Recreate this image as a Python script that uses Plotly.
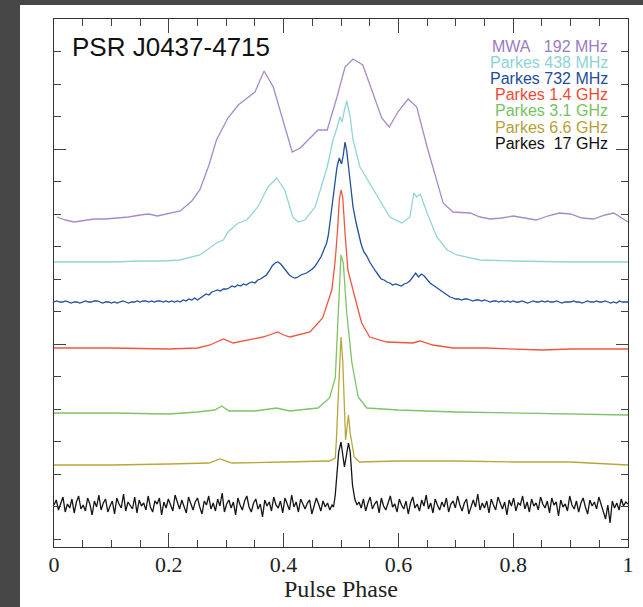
import plotly.graph_objects as go

# ---------------- data (pulse profiles, relative intensity, arbitrary units) ----------------
LEGEND_TEXT = ["MWA\u00a0\u00a0\u00a0192 MHz", "Parkes 438 MHz", "Parkes 732 MHz", "Parkes 1.4 GHz",
               "Parkes 3.1 GHz", "Parkes 6.6 GHz", "Parkes\u00a0\u00a017 GHz"]
COLORS = ["#a68bcb", "#92d5d5", "#1f4f9e", "#f0563f", "#7dc466", "#b9a63a", "#151515"]
TEXT_COLORS = ["#9a7cc2", "#8fd3d6", "#1c4c9a", "#f04a36", "#78c260", "#b3a13a", "#111111"]
OFFSETS = [329, 285, 245, 199, 134, 83, 40]

PHASE_MWA = [0.005, 0.02, 0.035, 0.05, 0.07, 0.09, 0.11, 0.13, 0.15, 0.165, 0.18, 0.195, 0.21, 0.22,
             0.24, 0.254, 0.27, 0.283, 0.303, 0.321, 0.350, 0.366, 0.382, 0.415, 0.429, 0.460, 0.476,
             0.493, 0.507, 0.521, 0.538, 0.554, 0.571, 0.584, 0.599, 0.617, 0.632, 0.650, 0.678, 0.695,
             0.725, 0.742, 0.76, 0.78, 0.80, 0.82, 0.84, 0.86, 0.88, 0.90, 0.92, 0.94, 0.96, 0.975, 0.99, 1.0]
REL_MWA = [1, -2, -4, -3, -1, -1, 0, 1, 3, 4, 2, 4, 6, 7,
           17, 28, 53, 78, 100, 113, 126, 147, 131, 66, 70, 88, 88,
           121, 151, 159, 153, 128, 100, 91, 106, 119, 111, 71, 15, 6,
           5, 1, -1, 0, 2, 0, -2, 2, 5, 4, 0, -1, 3, 5, 0, -4]

PHASE_438 = [0.0, 0.05, 0.1, 0.15, 0.19, 0.2195, 0.254, 0.283, 0.295, 0.303, 0.321, 0.336, 0.355, 0.373,
             0.388, 0.402, 0.416, 0.425, 0.437, 0.455, 0.476, 0.486, 0.493, 0.498, 0.502, 0.506, 0.510,
             0.516, 0.521, 0.533, 0.550, 0.568, 0.585, 0.606, 0.620, 0.627, 0.632, 0.638, 0.650, 0.667,
             0.685, 0.702, 0.725, 0.742, 0.8, 0.9, 1.0]
REL_438 = [0, 0, 0, 1, 1, 2, 7, 19, 22, 30, 39, 42, 55, 75,
           84, 72, 45, 40, 42, 55, 95, 122, 134, 145, 140, 152, 161,
           145, 122, 95, 79, 62, 45, 39, 45, 69, 65, 68, 49, 25,
           12, 7, 4, 2, 1, 0, 0]

# Parkes 732 MHz: off-pulse samples on a 0.005 phase grid plus a finer on-pulse part
STEP_732 = 0.005
REL_732_LEFT = [0, 1, 0, 0, 1, 0, -1, 0, 0, -1, 0, 1, 0, 0, 1, 1, 0, -1, 0, 0,
                -1, 0, -1, 0, 1, 0, -1, 0, 0, 1, 0, 1, 1, 0, 1, 0, 1, 1, 0, 1,
                0, 1, 0, 1, 0, 2, 1, 3, 2, 4, 2, 4, 6, 8, 7, 10, 11, 12, 11, 13,
                13, 14, 16, 15, 17, 16, 18, 17, 19, 20, 19, 22, 23, 25, 27, 31, 36, 39, 40, 38,
                34, 31, 27, 25, 24, 25, 27, 28, 29, 31, 33, 36, 40, 45, 52, 59]
PHASE_732_PEAK = [0.478, 0.482, 0.486, 0.490, 0.493, 0.497, 0.501, 0.504, 0.507, 0.510, 0.513,
                  0.517, 0.521, 0.526, 0.530, 0.535]
REL_732_PEAK = [67, 85, 105, 123, 135, 144, 138, 147, 160, 151, 135, 113, 95, 80, 69, 58]
START_732_RIGHT = 108
REL_732_RIGHT = [50, 46, 40, 35, 31, 27, 23, 22, 20, 19, 17, 18,
                 17, 16, 18, 19, 21, 25, 29, 25, 28, 26, 22, 19, 17, 15, 13, 11, 9, 7, 5, 4,
                 3, 3, 2, 3, 3, 2, 1, 2, 2, 1, 2, 1, 0, 1, 1, 0, 1, 0, 1, 0,
                 1, 0, 0, 1, 0, -1, 0, 1, 0, 0, 1, 0, 1, 0, 0, 1, 0, -1, 0, 0,
                 0, 1, 0, 0, -1, 0, 1, 0, 0, 1, 0, 0, 1, 0, -1, 0, -1, 1, 0, 0, 0]

PHASE_1400 = [0.0, 0.1, 0.2, 0.25, 0.272, 0.295, 0.312, 0.34, 0.364, 0.38, 0.390, 0.400, 0.411,
              0.446, 0.468, 0.484, 0.490, 0.494, 0.497, 0.500, 0.503, 0.507, 0.512, 0.524, 0.536,
              0.550, 0.580, 0.625, 0.638, 0.660, 0.695, 0.75, 0.8, 0.85, 0.9, 1.0]
REL_1400 = [0, 0, -1, 0, 3, 9, 5, 8, 11, 14, 16, 13, 11,
            16, 30, 58, 88, 118, 148, 158, 151, 115, 78, 51, 25,
            11, 6, 5, 7, 3, 0, 0, -1, -2, -1, -1]

PHASE_3100 = [0.0, 0.1, 0.2, 0.25, 0.28, 0.292, 0.305, 0.35, 0.388, 0.41, 0.46, 0.480, 0.490, 0.494,
              0.497, 0.500, 0.504, 0.510, 0.519, 0.530, 0.545, 0.6, 0.7, 0.8, 0.9, 1.0]
REL_3100 = [0, 0, -1, 1, 3, 7, 2, 2, 5, 2, 5, 15, 35, 83,
            133, 158, 150, 100, 50, 16, 5, 3, 1, 0, -1, -2]

PHASE_6600 = [0.0, 0.1, 0.2, 0.27, 0.289, 0.31, 0.4, 0.48, 0.49, 0.492, 0.495, 0.498, 0.500, 0.503,
              0.506, 0.508, 0.511, 0.513, 0.516, 0.523, 0.532, 0.6, 0.7, 0.8, 0.9, 1.0]
REL_6600 = [-1, -1, 0, 1, 5, 1, 2, 3, 6, 24, 64, 114, 127, 104,
            44, 24, 39, 49, 31, 7, 2, 3, 3, 2, 2, -1]

# Parkes 17 GHz: noisy off-pulse on a 1/256 grid plus on-pulse points
STEP_17 = 1 / 256
REL_17_GRID = [2, 7, -3, 4, 10, -5, 3, -1, 8, -6, 5, 11, -2, 2, -4, 9,
               3, -8, 6, 0, 12, -3, 4, 8, -5, 1, 6, -7, 9, 3, -1, 13,
               -4, 5, 2, -2, 10, -6, 7, 1, 4, -3, 11, 0, -5, 6, 3, 9,
               -8, 5, -1, 8, 2, -4, 12, 4, -2, 7, 1, -6, 10, 3, -3, 5,
               9, 0, -7, 6, 2, 11, -2, 4, -4, 8, 1, 14, -5, 3, 7, -1,
               5, -8, 9, 2, -3, 6, 11, 0, -5, 4, 8, -2, 3, -10, 7, 1,
               5, -4, 10, 2, -1, 6, -6, 9, 3, -3, 12, 0, 5, -5, 8, 2,
               -2, 4, 7, -7, 1, 9, 3, -4, 6, 0, 4, -3, 2, -1, 3, 1,
               2, 0, 3, 1, 2, 4, 0, 3, 5, -1, 8, -4, 4, 10, -2, 3,
               6, -6, 9, 1, -3, 5, 11, 0, 3, -5, 8, 2, -2, 6, -7, 4,
               10, -1, 3, -4, 7, 1, 12, -2, 4, -6, 8, 2, -3, 5, 0, 9,
               -5, 3, 6, -1, 11, 2, -4, 4, 8, -7, 1, 7, 0, 13, -3, 4,
               -1, 6, -6, 8, 2, -3, 10, 3, -2, 5, -8, 7, 1, 9, -4, 4,
               2, 11, -2, 5, -5, 8, 1, 4, -3, 10, 3, -1, 6, -6, 9, 2,
               5, -9, 7, 0, 3, -4, 11, 2, -2, 6, -5, 4, 9, 0, -7, 7,
               1, 5, -2, 10, 3, -4, -12, 2, -16, 6, -1, 4, -3, 8, 1, 5,
               3]
PHASE_17_PEAK = [0.487, 0.490, 0.493, 0.496, 0.500, 0.503, 0.506, 0.509, 0.513, 0.516, 0.520, 0.524, 0.528]
REL_17_PEAK = [0, 12, 35, 55, 65, 50, 40, 50, 64, 55, 22, 8, 2]

X_TICKS = [0, 0.2, 0.4, 0.6, 0.8, 1.0]
X_TICK_TEXT = ["0", "0.2", "0.4", "0.6", "0.8", "1"]

# ---------------- assemble series ----------------
def merge_grid(grid_vals, step, peak_x, peak_y, lo, hi, start=0):
    pts = [((start + i) * step, v) for i, v in enumerate(grid_vals)
           if not (lo < (start + i) * step < hi)]
    pts += list(zip(peak_x, peak_y))
    pts.sort()
    return [p[0] for p in pts], [p[1] for p in pts]

x732, y732 = merge_grid(REL_732_LEFT, STEP_732, PHASE_732_PEAK, REL_732_PEAK, 0.476, 0.537)
xr, yr = merge_grid(REL_732_RIGHT, STEP_732, [], [], 0.476, 0.537, start=START_732_RIGHT)
x732, y732 = x732 + xr, y732 + yr
x17, y17 = merge_grid(REL_17_GRID, STEP_17, PHASE_17_PEAK, REL_17_PEAK, 0.486, 0.529)

SERIES = [
    (PHASE_MWA, REL_MWA),
    (PHASE_438, REL_438),
    (x732, y732),
    (PHASE_1400, REL_1400),
    (PHASE_3100, REL_3100),
    (PHASE_6600, REL_6600),
    (x17, y17),
]

fig = go.Figure()
for (xs, ys), off, col, name in zip(SERIES, OFFSETS, COLORS, LEGEND_TEXT):
    fig.add_trace(go.Scatter(x=xs, y=[v + off for v in ys], mode="lines",
                             line=dict(color=col, width=1.3), name=name,
                             showlegend=False, hoverinfo="skip"))

W, H = 643, 607
L, R, T, B = 54, 15, 19, 60
pw, ph = W - L - R, H - T - B

def px_x(px):
    return (px - L) / pw

def px_y(py):
    return (H - B - py) / ph

# white panel over dark surround
fig.add_shape(type="rect", xref="paper", yref="paper",
              x0=px_x(20), x1=px_x(W + 5), y0=px_y(H + 5), y1=px_y(5),
              fillcolor="white", line=dict(width=0), layer="below")

# colored legend text
for k, (txt, c) in enumerate(zip(LEGEND_TEXT, TEXT_COLORS)):
    fig.add_annotation(x=px_x(609), y=px_y(46 + 16.2 * k), xref="paper", yref="paper",
                       text=txt, showarrow=False, xanchor="right", yanchor="middle",
                       borderpad=0,
                       font=dict(family="Liberation Sans, Arial", size=16, color=c))

fig.add_annotation(x=px_x(70), y=px_y(47), xref="paper", yref="paper",
                   text="PSR J0437-4715", showarrow=False, xanchor="left", yanchor="middle",
                   font=dict(family="Liberation Sans, Arial", size=26, color="#111111"))

serif = "Liberation Serif, Times New Roman, serif"
fig.update_layout(
    width=W, height=H,
    margin=dict(l=L, r=R, t=T, b=B, pad=0),
    paper_bgcolor="#474747", plot_bgcolor="white",
    showlegend=False,
    xaxis=dict(range=[0, 1], tickmode="array", tickvals=X_TICKS, ticktext=X_TICK_TEXT,
               ticks="inside", ticklen=14, tickwidth=1, tickcolor="#444",
               minor=dict(dtick=0.05, tick0=0, ticks="inside", ticklen=7, tickcolor="#444", tickwidth=1),
               showline=True, linecolor="#333", linewidth=1.2, mirror="allticks",
               showgrid=False, zeroline=False, ticklabelstandoff=-3,
               tickfont=dict(family=serif, size=22, color="#222"),
               title=dict(text="Pulse Phase", font=dict(family=serif, size=24, color="#222"), standoff=2),
               automargin=False),
    yaxis=dict(range=[0, ph], tickmode="array", tickvals=[202.8, 397.8],
               ticks="inside", ticklen=12, tickwidth=1, tickcolor="#444",
               minor=dict(tick0=7.8, dtick=32.5, ticks="inside", ticklen=7, tickcolor="#444", tickwidth=1),
               showticklabels=False,
               showline=True, linecolor="#333", linewidth=1.2, mirror="allticks",
               showgrid=False, zeroline=False, automargin=False),
)

fig.write_html("out.html")
